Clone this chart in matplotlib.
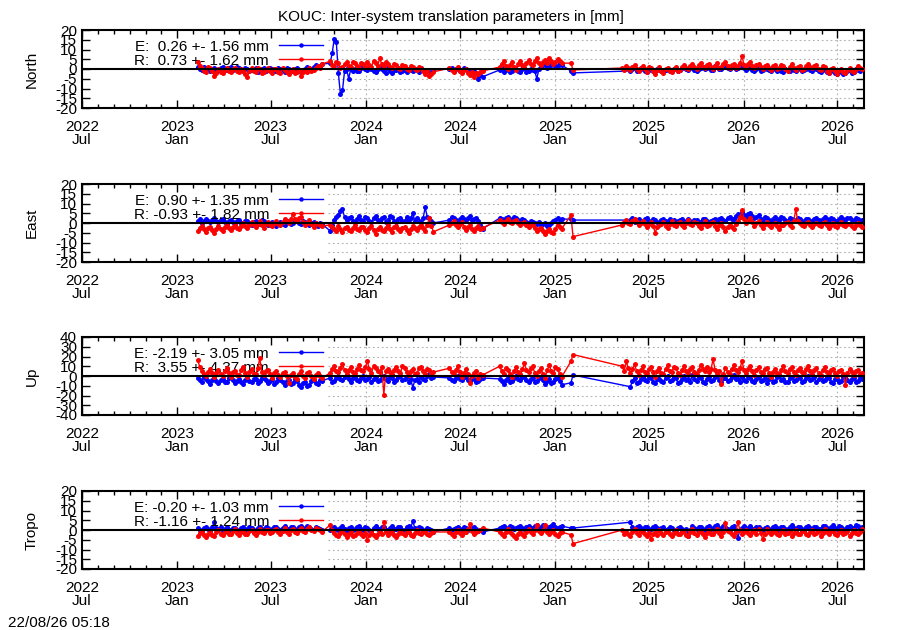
import numpy as np
import matplotlib
matplotlib.use("Agg")
import matplotlib.pyplot as plt
import matplotlib.dates as mdates
from matplotlib.ticker import FixedLocator, FixedFormatter
from matplotlib import font_manager

# ---------------- fonts ----------------
_names = {f.name for f in font_manager.fontManager.ttflist}
if "Liberation Sans Narrow" in _names:
    FAM = ["Liberation Sans Narrow", "DejaVu Sans"]
    FS = 12.8
else:
    FAM = ["Liberation Sans", "DejaVu Sans"]
    FS = 11.0
plt.rcParams["font.family"] = FAM
plt.rcParams["font.size"] = FS

# ---------------- data ----------------
title = "KOUC: Inter-system translation parameters in [mm]"
stamp = "22/08/26 05:18"
panel_names = ["North", "East", "Up", "Tropo"]
panel_limits = [20, 20, 40, 20]
panel_steps = [5, 5, 10, 5]
mean_E = [0.26, 0.90, -2.19, -0.20]
std_E = [1.56, 1.35, 3.05, 1.03]
mean_R = [0.73, -0.93, 3.55, -1.16]
std_R = [1.62, 1.82, 4.37, 1.24]

# observation epochs: segments (start, count, step in days)
seg_start = ["2023-02-10", "2023-10-24", "2024-06-11", "2024-09-16", "2025-02-01", "2025-05-11"]
seg_count = [61, 51, 17, 31, 2, 117]
seg_step = [4, 4, 4, 4, 4, 4]

nan = float("nan")

north_E = [
    1, 0, -0.5, 1, 0.5, -0.5, -1, 0, 0.5, -1, -0.5, 0.5, 1, 0, -0.5, 0.5, 1, -0.5, 0, 1, 0.5, -0.5, -1, 0.5, 0, -1, -0.5, 0, 0.5, -1.5,
    -1, 0, 0.5, -1, -0.5, 0.5, 0, -1, -1, 0.5, 0, -0.5, -1.5, 0.5, 0, -1, -1, 0, 0.5, -1, -1.5, -0.5, 0, 1, 0.5, 0, 1, 2, 1.5, 1, 2.5,
    3, 8, 15.5, 14, -2, -13, -11, -1, 0, -5, 0, -1, 0, -1, -1, 0.5, 1, 0, -0.5, 0.5, 0, -1, -1.5, 0, 1, 0, -1, -2, 0.5, -1,
    -2, -0.5, -0.5, 0.5, -1.5, -1, -0.5, -1.5, 0, -0.5, -1, 0, -0.5, -1.5, 0.5, -0.5, -1.5, -1, -2.5, -1.5, -0.5,
    0, 0.5, -1, 0, 0.5, -1, -0.5, 0.5, 0, -1, -2, -0.5, -1, -2, -5, -3, -4,
    -0.5, 0.5, -1.5, -0.5, 0.5, -1.5, -1, 0.5, 0, -1, -1.5, 0, 0.5, -1.5, -1, 0, -0.5, -1, -5, 0, 1, 2.5, 2, 0.5, 1, 2, 3, 1.5, 1.5, 3, 2,
    -1, -2,
    nan, nan, nan, nan, -1, 0, 0.5, -1, -0.5, 0.5, 0, -1, -1.5, -0.5, 0, -1, -1, 0, -0.5, -1, -1.5, -0.5, 0, -1, -1, 0, 0.5, -1, -0.5, 0.5,
    1, 0, -0.5, 1, 0.5, -0.5, -1, 0, 0.5, 1, 0, 0.5, 1, -0.5, -0.5, 1.5, 1, 0, 0, 1, 1.5, 0.5, 0, 1, 1, 0, 0.5, 1.5, 1.5, 0.5,
    -0.5, 1, 0.5, -0.5, -1, 0, 0.5, -1, -0.5, 0.5, 0, -0.5, -1, 0, 0.5, -1, -0.5, -1, -1.5, 0, -0.5, -1, 0, -0.5, -1, 0.5, 0, -1, -0.5, 0,
    0.5, -0.5, -1, 0.5, 0, -1, -1.5, 0, -0.5, -1.5, -2, -0.5, -1, -2, -2.5, -1, -1.5, -2.5, -2, -1, -0.5, -2, -1.5, 0, -0.5, -1, 0]
north_R = [
    3.5, 1.5, 0.5, -1, -1.5, 1, 0.5, -1, -3.5, -2, 0, -1.5, -2, -0.5, 0.5, -1, -1.5, 0, 0.5, -1, -1.5, 0, -1, -2.5, -4, -1, 0.5, -1, -1.5, 0.5,
    0, -2, -1.5, -0.5, 0.5, -1, -2, 0, 0, -1.5, -2, 0.5, -0.5, -1.5, -2.5, -1, 0, -2, -1.5, -0.5, -3.5, -1.5, -0.5, -1.5, 0.5, -1, -0.5, 0.5, 1.5, 0.5, 2.5,
    4, 2, 1.5, 3.5, 3, 0.5, 1, 2.5, 3.5, 1.5, 1, 3.5, 3, 1.5, 0.5, 3, 2.5, 1, 3.5, 2, 1, 4, 3, 1.5, 5.5, 2.5, 1.5, 3.5, 2.5, 1,
    0.5, 2.5, 2, 0.5, 0, 2, 1.5, 0, -0.5, 1.5, 1, 0, -0.5, 1, 0.5, -1, -2.5, -1, -3.5, -2.5, -1.5,
    0.5, -0.5, -1.5, 0, 1, -1, -2, -0.5, 0, -2, -3, -1.5, -4, -2, -2.5, -1.5, -1,
    1, 2.5, 4, 1.5, 0, 2, 3.5, 1, -0.5, 2.5, 4, 2, 1, 3, 4.5, 2.5, 2, 4, 5.5, 3, 2, 3.5, 4.5, 3, 5.5, 4, 2.5, 3.5, 5, 4, 3,
    3, -0.5,
    0.5, -0.5, 1.5, 0.5, -0.5, 1, 2, 0, -1, 0.5, 1.5, 0, -1.5, 1, 0.5, -1, -2.5, -0.5, 1, -1, -2, 0, 0.5, -1, -1.5, 0, 1, -1, -0.5, 1,
    2, 0.5, 0, 1.5, 2.5, 1, 0, 2, 3, 1, 0.5, 2, 2.5, 1, 0, 1.5, 3, 0.5, 1, 2.5, 3.5, 1.5, 0.5, 2, 2.5, 0.5, 1.5, 3, 6.5, 2,
    1, 2.5, 3.5, 1.5, 0.5, 2, 2.5, 1, 0, 1.5, 2, 0.5, -0.5, 1.5, 2, 0, 0.5, 2, 1.5, 0, -1, 1, 2.5, 0.5, -0.5, 1, 1.5, -0.5, 0, 1.5,
    2.5, 1, 0.5, 1.5, 2, 0, -0.5, 1.5, 1, -1, -2, 0, 0.5, -1, -2.5, -0.5, 0, -1.5, -2, -0.5, 0.5, -1, -1.5, 0, 1.5, 0.5, 0]

east_E = [
    1, 2, 0, 1, 2, 1, 0.5, 1.5, 2.5, 1, 0.5, 1.5, 2, 0.5, -0.5, 1, 1.5, 0.5, 0, 1, 1.5, 0, -0.5, 1, 1, 0, -1, 0.5, 1, 0,
    -0.5, 1.5, 1, 0, -1, 0, 0.5, -0.5, -1.5, 0, 0.5, -0.5, -1, 0.5, 1, -0.5, 0, 1, 1.5, 0, -0.5, 1, 0.5, -0.5, -1, 0, 0.5, -1, -1.5, 0, -0.5,
    -4, -1, 1.5, 3, 4, 6, 7, 3, 1.5, 2.5, 3, 1, 0.5, 2, 3.5, 1.5, 1, 3, 2.5, 1, 0.5, 2.5, 3.5, 1.5, 1, 2.5, 3, 0.5, 1.5, 3.5,
    3, 1, 0.5, 2, 2.5, 1, 1, 3, 1.5, 2.5, 5, 1, 2.5, 1, 0.5, 2.5, 8, 3, 2.5, 1, 0,
    1.5, 3, 2.5, 1.5, 1, 2, 3, 2, 1.5, 2.5, 3.5, 1.5, 2, 2.5, 1, -1, -3,
    2.5, 2, 1.5, 2.5, 3, 1.5, 2, 3, 2.5, 1.5, 1, 2, 1.5, 0.5, 0, 1, 0.5, 0, -0.5, 0.5, -1, -0.5, 0, -1.5, -1, 0, 1, 1.5, 2.5, 1.5, 2,
    2, 1.5,
    nan, nan, nan, nan, 1.5, 2.5, 0.5, 1.5, 2, 0.5, 1, 2, 2.5, 1, 0.5, 2, 1.5, 0.5, 0, 1.5, 2, 1, 0.5, 2, 1, 1.5, -0.5, 1, 1.5, 2,
    0.5, 1, 2, 1, 0, 1.5, 1.5, 0.5, 0.5, 2, 2, 1, 0, 1, 1.5, 2, 1, 2, 2.5, 1.5, 1, 2.5, 3, 2, 2, 3.5, 4.5, 3, 5.5, 4,
    3, 4.5, 5, 3.5, 2.5, 3, 4, 2, 1, 3, 2.5, 1.5, 1, 2, 3, 2, 1.5, 3, 2.5, 1.5, 1, 2.5, 2, 1, 1.5, 2.5, 2, 1, 0.5, 2,
    2, 1, 1, 2, 2.5, 1.5, 1, 2, 3, 2, 1.5, 2.5, 2, 1, 1, 2, 3, 2, 1.5, 2.5, 2.5, 1.5, 1, 2.5, 2, 1, 1.5]
east_R = [
    -4, -2.5, -1.5, -3, -4.5, -2.5, -2, -3.5, -5, -3, -1.5, -3, -4, -2, -1, -2.5, -3.5, -2, -1, -2.5, -3, -1.5, 0, -1.5, -2.5, -1, 0.5, -1, -2, -0.5,
    1, -1, -2.5, -0.5, 0.5, -1, -1.5, 0, 1, -0.5, -1, 0.5, 2, 1, 0, 2, 4.5, 2, 1, 2.5, 3, 0.5, -1, 0, 1.5, -0.5, -2, 0, -0.5, -1, -1.5,
    -1, -2, -3, -4, -1.5, -3, -4.5, -2.5, -2, -3.5, -4, -2.5, -1, -3, -3.5, -2, -2, -3.5, -4.5, -2.5, -1.5, -3.5, -5.5, -3, -2, -3.5, -4, -2.5, -1, -3,
    -4.5, -2, -1.5, -3, -4, -2.5, -2, -3.5, -5, -3, -1.5, -2.5, -3.5, -2, -1, -2.5, -4, -1, 2.5, -1.5, -4.5,
    -1, 0, 1, -1, -2, -0.5, 0.5, -2, -3.5, -2, -1, -3, -4, -2.5, -1.5, -3, -2.5,
    1.5, 0.5, -0.5, 1, 2, 0.5, 0, 1, 1.5, 0, -1, 0, 0.5, -1, -2, -0.5, -1, -2.5, -4, -3, -2.5, -4, -5.5, -4, -3, -4.5, -5, -3, -1, -2, -3,
    4, -7,
    -1, 0.5, 1.5, 0, -0.5, 1, 2, 0.5, -1, 0, 1, -0.5, -2, -0.5, 0.5, -1.5, -5, -2, -1, -0.5, 0.5, -1.5, -2.5, -0.5, 1, -1, -1.5, 0, 0.5, -1,
    -2, 0, 1.5, -0.5, -1, 0.5, 0, -1.5, -2.5, -0.5, 1, -1.5, -1, 0, 0.5, -1.5, -3, -1, 0, -2, -4, -2, -1, -2, -3, -0.5, 1, 3, 6.5, 2,
    0, 1, 2.5, 0.5, -1.5, 0, 1, -1, -2.5, -0.5, 0.5, -1, -2, -0.5, 0, -1.5, -3, -1, -1, 0, 0.5, -1, -2, 1, 7, 1, 0, -1, -1.5, 0,
    0.5, -1, -2, -0.5, 0, -1, -1.5, 0, 0.5, -1, -2.5, -1, 0, -1.5, -2, -0.5, 0.5, -1, -1.5, -0.5, -0.5, -1.5, -2.5, -1, 0, -1, -2]

up_E = [
    -2, -4, -6, -1, -3, -5, -8, -4, -2, -5, -7, -4, -3, -6, -6, -2, -1, -4, -7, -5, -3, -6, -8, -4, -2, -5, -6, -3, -3, -7,
    -5, -2, -2, -4, -7, -5, -3, -8, -6, -2, -4, -6, -9, -5, -4, -8, -7, -3, -5, -9, -11, -7, -6, -10, -9, -5, -4, -7, -8, -4, -5,
    -2, -6, -5, -2, 0, -3, -4, -1, 1, -3, -6, -2, -1, -4, -5, -2, 0, -4, -3, -1, -6, -3, -1, -5, -4, -2, 0, -3, -5, -1,
    -2, -6, -4, -1, 0, -4, -3, -1, -6, -3, -12, -4, -3, -6, -1, -3, -4, 0, 2, -2, -1,
    -2, -4, -5, -2, 0, -3, -4, -1, -1, -4, -5, -2, -3, -6, -5, -3, -2,
    -3, -5, -8, -4, -2, -6, -5, -2, 0, -3, -4, -1, -1, -4, -6, -3, -2, -6, -5, -2, -1, -4, -8, -5, -3, -7, -6, -3, -2, -5, -9,
    -7, 1,
    nan, nan, nan, nan, -11, -5, -2, -7, -6, -3, -1, -4, -5, -1, -2, -6, -7, -3, -3, -5, -6, -2, 0, -5, -4, -1, -2, -7, -6, -3,
    0, -4, -3, -6, 1, -3, -5, -1, -2, -6, -7, -3, -1, -5, -4, -1, 0, -4, -6, -2, -2, -5, -4, -1, 1, -3, -3, -6, -1, -4,
    -5, -1, -2, -5, -6, -3, -1, -5, -4, -2, -7, -3, -2, -6, -5, -1, 0, -4, -3, -6, -6, -2, -1, -5, -4, -1, -2, -6, -5, -2,
    0, -4, -3, -1, -6, -3, -1, -5, -4, -1, -2, -6, -7, -3, -3, -6, -5, -1, -1, -4, -6, -3, -2, -6, -5, -2, -3]
up_R = [
    16, 9, 5, 2, 0, 4, 7, 3, -1, 3, 6, 2, 0, 5, 8, 3, -1, 4, 5, 1, 1, 6, 9, 3, -1, 4, 7, 2, 2, 8,
    18, 4, 1, 5, 6, 2, -2, 3, 5, 1, -1, 3, 4, 0, -7, 1, 3, -1, -3, 2, 5, 0, -2, 3, 4, 0, -3, 1, 3, 0, -2,
    3, 7, 10, 5, 4, 8, 12, 6, 2, 6, 9, 4, 3, 7, 11, 6, 5, 9, 15, 7, 3, 10, 8, 5, 4, 9, -19, 5, 7, 4,
    2, 6, 9, 5, 3, 10, 8, 4, 1, 5, 7, 2, 3, 8, 9, 5, 2, 7, 6, 3, 4,
    8, 4, 2, 6, 10, 4, -1, 3, 7, 2, -7, 0, 3, 5, -2, 2, 1,
    10, 5, 2, 8, 6, 2, -1, 5, 9, 4, 2, 7, 13, 6, 4, 8, 10, 3, 0, 5, 8, 2, -2, 6, 11, 5, 3, 9, 7, 2, -1,
    15, 22,
    10, 5, 15, 8, 3, 7, 12, 5, 1, 6, 10, 4, 3, 7, 9, 4, -1, 5, 8, 3, 2, 7, 11, 5, 4, 9, 8, 3, 1, 6,
    10, 5, 3, 7, 9, 4, 2, 6, 11, 7, 5, 9, 4, 7, 17, 6, 3, 5, -8, 2, 8, 4, 2, 7, 11, 6, 4, 8, 15, 6,
    3, 7, 10, 5, 1, 6, 9, 4, 3, 7, 8, 3, -1, 4, 7, 3, 2, 6, 10, 5, 3, 7, 9, 4, 1, 6, 8, 4, 3, 7,
    10, 5, 2, 6, 8, 3, 1, 6, 9, 4, 3, 6, 7, 3, 0, 5, 6, 2, -9, 3, 7, 4, 1, 5, 6, 2, 3]

tropo_E = [
    1, 0, -0.5, 1, 1.5, 0.5, 0, 1.5, 4, 1, 0.5, 1.5, -1, 0.5, 1.5, 0, 0, 1, 1, 0, -0.5, 1, 1.5, 0.5, 0, 1.5, 1, 0, -0.5, 1,
    1.5, 0.5, 0, 1.5, 1, 0, 0.5, 1.5, 1.5, 0.5, 0, 1, 2, 0.5, 0.5, 1.5, 1.5, 0.5, 0, 1.5, 2, 1, 0.5, 2, 1.5, 0.5, 0, 1.5, 1, 0.5, 0,
    0, 1, 1.5, 0.5, 0, 1, 2, 0.5, -0.5, 1, 1.5, 0, 0.5, 1.5, 2, 0.5, 0, 1.5, 1, 0, -0.5, 1, 2, 0.5, 0.5, 1.5, 1.5, 0, 0, 1,
    2, 0.5, 0.5, 1.5, 1.5, 0, 0, 1.5, 2, 1, 4.5, 1, 0.5, 1.5, 1, 0, -0.5, 1, 0.5, 0, -1,
    1, 0, 0.5, 1, 1.5, 0.5, 0, 1.5, 1, 0, 0.5, 1, 1.5, 0.5, -0.5, 0, -1,
    1, 1.5, 2, 1, 0.5, 2, 1.5, 0.5, 1, 1.5, 2, 1, 0.5, 1.5, 2, 1, 1, 2, 2.5, 1.5, 1, 2.5, 2, 1, 1.5, 2, 3, 1.5, 1, 1.5, 2,
    1, 1,
    nan, nan, nan, nan, 4, 1.5, 0.5, 1.5, 2, 1, 0, 1.5, 1.5, 0, 0.5, 1.5, 2, 1, 0, 1, 1.5, 0, 0.5, 1.5, 1, 0, -0.5, 1, 1.5, 0.5,
    -0.5, 0.5, -3, 0, 2, 1, 0.5, 1.5, 1.5, 0.5, 0, 1.5, 2, 0.5, 1, 2, 2.5, 1, 0.5, 2, 1.5, 0.5, 0, 1.5, 2, 0, -4, 0, 1, 2,
    0, 1, 2, 0.5, 0.5, 1.5, 1.5, 0.5, 0, 1, 1.5, 0, 0.5, 1.5, 2, 1, 0, 1.5, 1.5, 0.5, 0.5, 1.5, 2.5, 1, 0, 1.5, 1.5, 0, 0.5, 1.5,
    2, 1, 0, 1.5, 1.5, 0.5, 0.5, 2, 2, 1, 0, 1.5, 2.5, 1, 0.5, 2, 1.5, 0.5, 0, 1.5, 2, 1, 1, 2.5, 2, 1, 1.5]
tropo_R = [
    -3, -1.5, -0.5, -2.5, -3.5, -2, -1, -2.5, -3, -1, 0, -2, -2.5, -1, -0.5, -2, -2, -0.5, 0.5, -1.5, -2.5, -1, -0.5, -2, -2, -0.5, 0, -1.5, -2.5, -1,
    0.5, -1, -1.5, 0, 0, -1.5, -1, 0, 0.5, -1, -2, -0.5, 1, -1, -2, 0, 0.5, -1, -1.5, 0, 1, -0.5, -1, 0.5, 1.5, 0, -0.5, 1, 0.5, 0, -1,
    2.5, 0, -1.5, -2.5, -3, -1.5, -0.5, -2, -3.5, -2, -1, -3, -2.5, -1.5, -0.5, -2, -3, -1.5, -5, -2.5, -1, -2.5, -3.5, -2, -0.5, -2, 4, -1, -2.5, -1.5,
    -1, -2.5, -3.5, -2, -0.5, -1.5, -2.5, -1, -1, -2.5, -3, -1.5, 0, -1.5, -2, -1, -0.5, -2, -2.5, -1.5, -1,
    -1, -2, -3, -1, 0, -1.5, -2.5, -1, -1, 0.5, 3, -0.5, -2, -1, -0.5, 0, 1,
    -1, -2, -3, -1, 0.5, -1, -2, -3, -4, -2, -1, -2, -3, -1, 0.5, -1, -2, 0, 2.5, -0.5, -1.5, 0, 2.5, -1, -2, -1, 0, -2, -3, -1.5, -1,
    -2.5, -7,
    0, -2, -1, -2, -3, -1, 0.5, -1.5, -2.5, -0.5, -1, -2, -3, -1.5, -4.5, -2, -1, -2.5, 0, -1.5, -2.5, -1, -0.5, -2, -3, -1.5, 0, -2, -2, -0.5,
    -1, -2.5, -3, -1, 0.5, -1.5, -2.5, -1, -0.5, -2, -3.5, -1.5, 0, -2, -2, -0.5, 0.5, -1.5, -3, -1, 3.5, -0.5, -1, -2, -3, -1, 4, 0, -2, -1,
    0, -1.5, -2.5, -1, 0, -2, 0.5, -1.5, -4.5, -2, 0.5, -1, -2, -1, -0.5, -2, -2.5, -1, 0, -2, -1.5, -0.5, -3, -1.5, 0, -2, -2, -0.5, -0.5, -2,
    -2.5, -1, 0, -2, -1.5, -0.5, -3, -1.5, 0.5, -1, -2, -0.5, -0.5, -2, -2.5, -1, 0, -2, -1.5, -0.5, -3, -1.5, 0, -1.5, -2, -1, 0.5]

values_E = [north_E, east_E, up_E, tropo_E]
values_R = [north_R, east_R, up_R, tropo_R]

xtick_dates = ["2022-07-01", "2023-01-01", "2023-07-01", "2024-01-01", "2024-07-01",
               "2025-01-01", "2025-07-01", "2026-01-01", "2026-07-01"]
xtick_labels = ["2022\nJul", "2023\nJan", "2023\nJul", "2024\nJan", "2024\nJul",
                "2025\nJan", "2025\nJul", "2026\nJan", "2026\nJul"]
x_min, x_max = "2022-07-01", "2026-08-22"
grid_from = "2023-10-20"

# ---------------- build epochs ----------------
dates = np.concatenate([np.datetime64(s) + np.arange(n) * np.timedelta64(st, "D")
                        for s, n, st in zip(seg_start, seg_count, seg_step)])
xnum = mdates.date2num(dates)
xmin_n = mdates.date2num(np.datetime64(x_min))
xmax_n = mdates.date2num(np.datetime64(x_max))
grid_n = mdates.date2num(np.datetime64(grid_from))
xt = mdates.date2num(np.array(xtick_dates, dtype="datetime64[D]"))

# ---------------- figure ----------------
W, Hf = 900, 630
fig = plt.figure(figsize=(W / 100, Hf / 100), dpi=100)
panel_tops = [30, 184, 337, 491]
ph = 78
L, R_ = 82, 864

fig.text(451 / W, 1 - 20.5 / Hf, title, ha="center", va="baseline")
fig.text(8 / W, 1 - 627 / Hf, stamp, ha="left", va="baseline")

BLUE, RED = "#0000ff", "#ff0000"
GRID = "#b0b0b0"
MS = 3.6

for k in range(4):
    top = panel_tops[k]
    ax = fig.add_axes([L / W, 1 - (top + ph) / Hf, (R_ - L) / W, ph / Hf])
    lim, stp = panel_limits[k], panel_steps[k]
    ax.set_xlim(xmin_n, xmax_n)
    ax.set_ylim(-lim, lim)
    yt = np.arange(-lim, lim + stp / 2, stp)
    ax.set_yticks(yt)
    ax.set_yticklabels([f"{int(v)}" for v in yt])

    # grid (left part hidden as in the original)
    for y in yt:
        if y == 0 or abs(y) == lim:
            continue
        ax.plot([grid_n, xmax_n], [y, y], color=GRID, lw=0.8, ls=(0, (1.5, 2.5)), zorder=1)
    for t in xt:
        if t > grid_n:
            ax.plot([t, t], [-lim, lim], color=GRID, lw=0.8, ls=(0, (1.5, 2.5)), zorder=1)

    # key
    ytxt = [1 - 20.7 / ph, 1 - 35 / ph]
    yline = [1 - 15 / ph, 1 - 29 / ph]
    for j, (nm, mu, sd, col) in enumerate([("E", mean_E[k], std_E[k], BLUE),
                                           ("R", mean_R[k], std_R[k], RED)]):
        ax.text((269 - L) / (R_ - L), ytxt[j], f"{nm}: {mu:5.2f} +- {sd:.2f} mm",
                transform=ax.transAxes, ha="right", va="baseline", zorder=1.5 + j)
        ax.plot([(279 - L) / (R_ - L), (323 - L) / (R_ - L)], [yline[j], yline[j]],
                color=col, lw=1.0, transform=ax.transAxes, zorder=1.6 + j)
        ax.plot([(301 - L) / (R_ - L)], [yline[j]], "o", color=col, ms=3.2, mew=0,
                transform=ax.transAxes, zorder=1.6 + j)

    # data
    for vals, col, z in [(values_E[k], BLUE, 2), (values_R[k], RED, 3)]:
        v = np.asarray(vals, dtype=float)
        assert len(v) == len(xnum), (k, col, len(v), len(xnum))
        m = ~np.isnan(v)
        ax.plot(xnum[m], v[m], "-", color=col, lw=1.0, marker="o", ms=MS,
                mec=col, mfc=col, mew=0, zorder=z)

    ax.axhline(0, color="black", lw=1.5, zorder=4)

    ax.xaxis.set_major_locator(FixedLocator(xt))
    ax.xaxis.set_major_formatter(FixedFormatter(xtick_labels))
    ax.xaxis.set_minor_locator(mdates.MonthLocator())
    ax.tick_params(which="both", direction="in", top=True, right=True, color="black")
    ax.tick_params(which="major", length=5.8, width=1.0)
    ax.tick_params(which="minor", length=2.9, width=1.0)
    ax.tick_params(axis="x", pad=8.5)
    ax.tick_params(axis="y", pad=3.6)
    for lbl in ax.get_xticklabels():
        lbl.set_linespacing(0.95)
    for s in ax.spines.values():
        s.set_linewidth(1.5)

    fig.text(32 / W, 1 - (top + ph / 2) / Hf, panel_names[k], rotation=90,
             ha="center", va="center")

fig.savefig("out.png", dpi=100)
